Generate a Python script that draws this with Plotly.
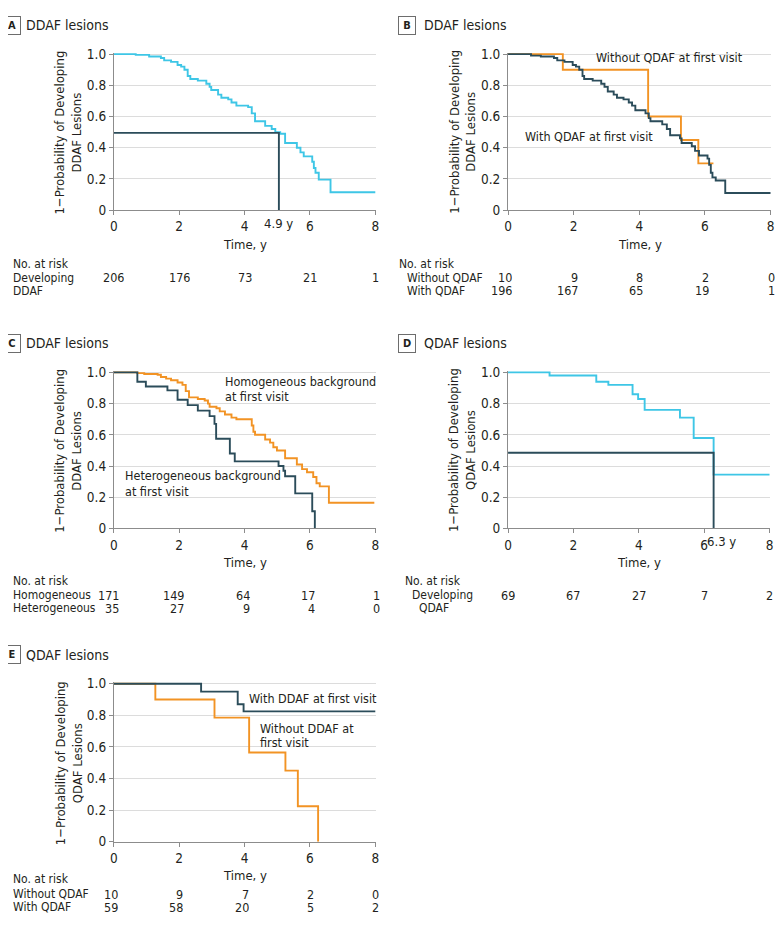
import plotly.graph_objects as go

W, H = 783, 932
# the photographed page shows the figure slightly shrunk and shifted;
# positions below are given in reference pixels and mapped back through this
SHIFT, SCALE = 15.0, 0.983
FONT = "DejaVu Sans Condensed, Roboto, sans-serif"
CYAN = "#3EC6E6"
DARK = "#2B4C5A"
ORANGE = "#F29324"
AXIS = "#8c8c8c"
GRID = "#dcdcdc"
TEXT = "#231f20"

X_TICKS = [0, 2, 4, 6, 8]
Y_TICKS = [0, 0.2, 0.4, 0.6, 0.8, 1.0]
Y_TICK_TEXT = ["0", "0.2", "0.4", "0.6", "0.8", "1.0"]

# A: DDAF lesions, all eyes
A_T = [0, 0.67, 1.08, 1.44, 1.54, 1.75, 1.95, 2.06, 2.16, 2.26, 2.34, 2.57, 2.83, 2.93, 2.98, 3.19, 3.29,
       3.5, 3.6, 3.75, 4.11, 4.22, 4.32, 4.63, 4.83, 4.94, 5.09, 5.24, 5.6, 5.71, 5.81, 6.07, 6.12, 6.17,
       6.27, 6.63, 8.0]
A_S = [1.0, 0.995, 0.985, 0.975, 0.96, 0.95, 0.93, 0.92, 0.90, 0.86, 0.84, 0.83, 0.81, 0.79, 0.77, 0.74, 0.72,
       0.71, 0.69, 0.67, 0.66, 0.62, 0.57, 0.54, 0.52, 0.50, 0.49, 0.43, 0.40, 0.37, 0.345, 0.31, 0.27, 0.24,
       0.196, 0.115, 0.115]
A_MEDIAN = 5.05
A_MEDIAN_S = 0.495
A_MEDIAN_LABEL = "4.9 y"
A_RISK = [206, 176, 73, 21, 1]

# B: DDAF lesions by QDAF at first visit
B_WO_T = [0, 1.67, 4.27, 5.27, 5.8, 6.26]
B_WO_S = [1.0, 0.90, 0.60, 0.45, 0.30, 0.30]
B_W_T = [0, 0.7, 1.0, 1.4, 1.5, 1.72, 1.97, 2.07, 2.17, 2.27, 2.32, 2.58, 2.84, 2.94, 3.04, 3.22, 3.32, 3.52,
         3.68, 3.78, 3.88, 4.19, 4.29, 4.34, 4.7, 4.84, 4.94, 5.24, 5.29, 5.6, 5.7, 5.82, 6.08, 6.13, 6.18,
         6.23, 6.33, 6.62, 8.0]
B_W_S = [1.0, 0.99, 0.985, 0.975, 0.96, 0.95, 0.93, 0.92, 0.90, 0.86, 0.84, 0.83, 0.81, 0.79, 0.76, 0.74, 0.72,
         0.71, 0.69, 0.67, 0.64, 0.62, 0.59, 0.57, 0.55, 0.52, 0.48, 0.46, 0.43, 0.41, 0.38, 0.35, 0.33, 0.29,
         0.24, 0.21, 0.19, 0.11, 0.11]
B_RISK_WO = [10, 9, 8, 2, 0]
B_RISK_W = [196, 167, 65, 19, 1]

# C: DDAF lesions by background
C_HOM_T = [0, 0.72, 0.93, 1.34, 1.44, 1.6, 1.75, 1.95, 2.1, 2.2, 2.3, 2.57, 2.78, 2.88, 2.93, 3.14, 3.24, 3.4,
           3.6, 3.75, 4.22, 4.27, 4.32, 4.63, 4.78, 4.88, 4.99, 5.24, 5.6, 5.76, 5.91, 6.1, 6.2, 6.3, 6.58, 7.97]
C_HOM_S = [1.0, 0.995, 0.99, 0.985, 0.97, 0.96, 0.95, 0.935, 0.92, 0.88, 0.84, 0.83, 0.82, 0.80, 0.78, 0.77,
           0.75, 0.73, 0.71, 0.70, 0.66, 0.62, 0.60, 0.57, 0.55, 0.52, 0.50, 0.45, 0.41, 0.38, 0.36, 0.33, 0.29,
           0.27, 0.165, 0.165]
C_HET_T = [0, 0.72, 0.98, 1.64, 1.95, 2.26, 2.57, 2.93, 3.08, 3.13, 3.55, 3.7, 5.04, 5.19, 5.24, 5.55, 6.07, 6.15]
C_HET_S = [1.0, 0.94, 0.91, 0.885, 0.825, 0.79, 0.755, 0.72, 0.67, 0.575, 0.48, 0.43, 0.40, 0.37, 0.335,
           0.225, 0.11, 0.0]
C_RISK_HOM = [171, 149, 64, 17, 1]
C_RISK_HET = [35, 27, 9, 4, 0]

# D: QDAF lesions, all eyes
D_T = [0, 1.27, 2.7, 3.07, 3.81, 3.98, 4.18, 5.26, 5.68, 6.29, 8.0]
D_S = [1.0, 0.98, 0.94, 0.92, 0.86, 0.83, 0.76, 0.71, 0.58, 0.345, 0.345]
D_MEDIAN = 6.29
D_MEDIAN_S = 0.485
D_MEDIAN_LABEL = "6.3 y"
D_RISK = [69, 67, 27, 7, 2]

# E: QDAF lesions by DDAF at first visit
E_W_T = [0, 2.67, 3.79, 3.97, 8.0]
E_W_S = [1.0, 0.95, 0.87, 0.825, 0.825]
E_WO_T = [0, 1.27, 3.08, 4.14, 5.25, 5.63, 6.25]
E_WO_S = [1.0, 0.90, 0.785, 0.565, 0.45, 0.225, 0.0]
E_RISK_WO = [10, 9, 7, 2, 0]
E_RISK_W = [59, 58, 20, 5, 2]

# panel geometry in reference pixels: (left, right, top, bottom)
PANELS = {
    "A": (116, 376, 54, 210),
    "B": (507, 768, 54, 210),
    "C": (116, 376, 372, 528),
    "D": (507, 767, 372, 528),
    "E": (116, 376, 683, 841),
}


def px_x(x):
    return max((x - SHIFT) / SCALE, 0) / W


def px_y(y):
    return 1 - max((y - SHIFT) / SCALE, 0) / H


fig = go.Figure()
annotations = []


def text(x, y, s, size=12.5, xanchor="left", xref="paper", **kw):
    annotations.append(dict(
        x=x if xref != "paper" else px_x(x), y=px_y(y), xref=xref, yref="paper", text=s, showarrow=False,
        xanchor=xanchor, yanchor="middle", font=dict(family=FONT, size=size, color=TEXT), **kw,
    ))


def label(x, y, s):
    text(x, y, s, size=12, height=15, borderpad=0)


def count(x, y, n, xref, xanchor="right", xshift=0):
    # risk table rows sit 13 px apart; digits fit a 12 px box
    text(x, y, str(n), size=12.5, height=12, borderpad=0, xref=xref, xanchor=xanchor, xshift=xshift)


def step(i, t, s, color):
    fig.add_trace(go.Scatter(x=t, y=s, mode="lines", line=dict(color=color, width=1.9, shape="hv"),
                             xaxis=f"x{i}", yaxis=f"y{i}", hoverinfo="skip"))


axes = {}
for i, (key, (l, r, t, b)) in enumerate(PANELS.items(), start=1):
    suffix = "" if i == 1 else str(i)
    axes[f"xaxis{suffix}"] = dict(
        domain=[px_x(l), px_x(r)], range=[0, 8.02], anchor=f"y{suffix}", tickvals=X_TICKS,
        showline=True, linecolor=AXIS, linewidth=1, ticks="outside", ticklen=4, tickcolor=AXIS,
        showgrid=False, zeroline=False, tickfont=dict(family=FONT, size=13.5, color=TEXT),
    )
    axes[f"yaxis{suffix}"] = dict(
        domain=[px_y(b), px_y(t - 1.5)], range=[0, 1.01], anchor=f"x{suffix}", tickvals=Y_TICKS,
        ticktext=Y_TICK_TEXT, showline=True, linecolor=AXIS, linewidth=1, ticks="outside", ticklen=4,
        tickcolor=AXIS, showgrid=True, gridcolor=GRID, zeroline=False,
        tickfont=dict(family=FONT, size=13.5, color=TEXT),
    )

# traces
step(1, A_T, A_S, CYAN)
fig.add_trace(go.Scatter(x=[0, A_MEDIAN, A_MEDIAN], y=[A_MEDIAN_S, A_MEDIAN_S, 0], mode="lines",
                         line=dict(color=DARK, width=1.9), xaxis="x", yaxis="y", hoverinfo="skip"))
step(2, B_WO_T, B_WO_S, ORANGE)
step(2, B_W_T, B_W_S, DARK)
step(3, C_HOM_T, C_HOM_S, ORANGE)
step(3, C_HET_T, C_HET_S, DARK)
step(4, D_T, D_S, CYAN)
fig.add_trace(go.Scatter(x=[0, D_MEDIAN, D_MEDIAN], y=[D_MEDIAN_S, D_MEDIAN_S, 0], mode="lines",
                         line=dict(color=DARK, width=1.9), xaxis="x4", yaxis="y4", hoverinfo="skip"))
step(5, E_WO_T, E_WO_S, ORANGE)
step(5, E_W_T, E_W_S, DARK)

# panel headers and y titles
HEADERS = {"A": "DDAF lesions", "B": "DDAF lesions", "C": "DDAF lesions", "D": "QDAF lesions", "E": "QDAF lesions"}
YTITLES = {"A": "DDAF", "B": "DDAF", "C": "DDAF", "D": "QDAF", "E": "QDAF"}
for key, (l, r, t, b) in PANELS.items():
    ox = 0 if l < 300 else 395
    hy = t - 29
    annotations.append(dict(
        x=px_x(ox + 12), y=px_y(hy), xref="paper", yref="paper", text=f"<b>{key}</b>", showarrow=False,
        xanchor="center", yanchor="middle", font=dict(family=FONT, size=11, color=TEXT),
        bordercolor="#6d6d6d", borderwidth=1, borderpad=1, width=14, height=15,
    ))
    text(ox + 27, hy, HEADERS[key], size=14)
    annotations.append(dict(
        x=px_x(l - 45), y=px_y((t + b) / 2), xref="paper", yref="paper",
        text=f"1−Probability of Developing<br>{YTITLES[key]} Lesions", showarrow=False, textangle=-90,
        xanchor="center", yanchor="middle", font=dict(family=FONT, size=13, color=TEXT),
    ))
    text((l + r) / 2, b + 34, "Time, y", size=13, xanchor="center")

# median labels
text(A_MEDIAN, 223, A_MEDIAN_LABEL, size=13, xanchor="center", xref="x")
text(D_MEDIAN, 541, D_MEDIAN_LABEL, size=13, xanchor="left", xref="x4", xshift=-9)

# curve labels
text(587, 136, "With QDAF at first visit", xanchor="center")
text(667, 57, "Without QDAF at first visit", xanchor="center")
text(224, 381, "Homogeneous background")
text(224, 396, "at first visit")
text(125, 475, "Heterogeneous background")
text(125, 491, "at first visit")
text(248, 698, "With DDAF at first visit")
text(259, 728, "Without DDAF at")
text(259, 742, "first visit")

# risk tables
label(0, 263, "No. at risk")
label(6, 277, "Developing")
label(9, 290, "DDAF")
for x, n in zip(X_TICKS, A_RISK):
    count(x, 277, n, "x", xanchor="center")

label(398, 263, "No. at risk")
label(406, 277, "Without QDAF")
label(406, 290, "With QDAF")
for x, n in zip(X_TICKS, B_RISK_WO):
    count(x, 277, n, "x2", xshift=5)
for x, n in zip(X_TICKS, B_RISK_W):
    count(x, 290, n, "x2", xshift=5)

label(0, 580, "No. at risk")
label(8, 594, "Homogeneous")
label(8, 607, "Heterogeneous")
for x, n in zip(X_TICKS, C_RISK_HOM):
    count(x, 594, n, "x3", xshift=6)
for x, n in zip(X_TICKS, C_RISK_HET):
    count(x, 607, n, "x3", xshift=6)

label(404, 580, "No. at risk")
label(411, 594, "Developing")
label(418, 607, "QDAF")
for x, n in zip(X_TICKS, D_RISK):
    count(x, 594, n, "x4", xanchor="center")

label(0, 878, "No. at risk")
label(8, 893, "Without QDAF")
label(8, 906, "With QDAF")
for x, n in zip(X_TICKS, E_RISK_WO):
    count(x, 893, n, "x5", xshift=5)
for x, n in zip(X_TICKS, E_RISK_W):
    count(x, 906, n, "x5", xshift=5)

fig.update_layout(
    width=W, height=H, margin=dict(l=0, r=0, t=0, b=0), showlegend=False,
    plot_bgcolor="white", paper_bgcolor="white", font=dict(family=FONT, color=TEXT),
    annotations=annotations, **axes,
)
fig.write_html("out.html")
